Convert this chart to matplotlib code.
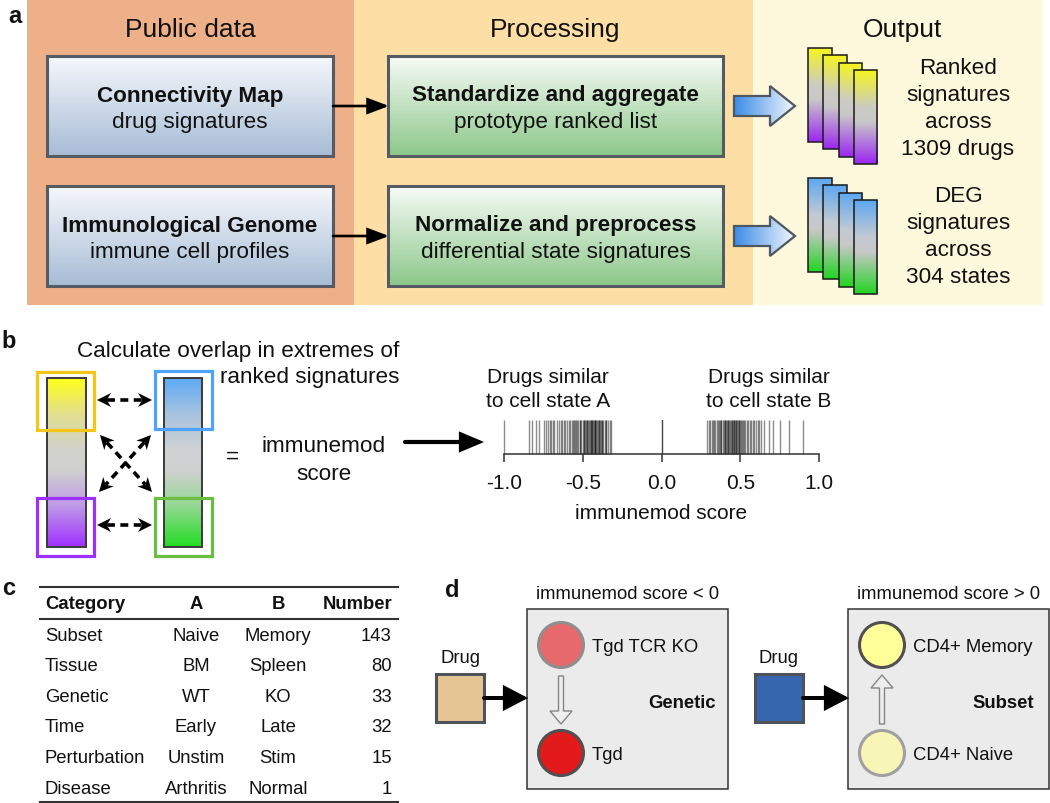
import numpy as np
import matplotlib
matplotlib.use('Agg')
import matplotlib.pyplot as plt
from matplotlib.patches import Rectangle, Polygon, Circle, FancyArrowPatch
from matplotlib.colors import to_rgb

plt.rcParams['font.family'] = ['Liberation Sans', 'DejaVu Sans']
plt.rcParams['axes.unicode_minus'] = False

# ---- panel a: pipeline ----
a_headers = ['Public data', 'Processing', 'Output']
a_source_bold = ['Connectivity Map', 'Immunological Genome']
a_source_sub = ['drug signatures', 'immune cell profiles']
a_proc_bold = ['Standardize and aggregate', 'Normalize and preprocess']
a_proc_sub = ['prototype ranked list', 'differential state signatures']
a_output = [['Ranked', 'signatures', 'across', '1309 drugs'],
            ['DEG', 'signatures', 'across', '304 states']]

# ---- panel b: immunemod scores of drugs (rug) ----
rug_scores = [-1.0, -0.84, -0.82, -0.80, -0.78, -0.745, -0.735, -0.72, -0.71, -0.70,
              -0.69, -0.68, -0.665, -0.65, -0.64, -0.63, -0.62, -0.61, -0.60, -0.59,
              -0.58, -0.57, -0.56, -0.555, -0.55, -0.54, -0.535, -0.53, -0.52, -0.515,
              -0.51, -0.50, -0.495, -0.49, -0.485, -0.48, -0.475, -0.47, -0.465, -0.46,
              -0.455, -0.45, -0.445, -0.44, -0.44, -0.435, -0.43, -0.425, -0.42, -0.42,
              -0.415, -0.41, -0.405, -0.40, -0.395, -0.39, -0.385, -0.38, -0.375, -0.37,
              -0.36, -0.355, -0.35, -0.34, -0.33, -0.32,
              0.29, 0.30, 0.31, 0.32, 0.33, 0.335, 0.34, 0.35, 0.36, 0.365,
              0.37, 0.375, 0.38, 0.39, 0.395, 0.40, 0.405, 0.41, 0.415, 0.42,
              0.425, 0.43, 0.435, 0.44, 0.445, 0.45, 0.455, 0.46, 0.46, 0.465,
              0.47, 0.475, 0.48, 0.485, 0.49, 0.495, 0.50, 0.505, 0.51, 0.52,
              0.525, 0.53, 0.54, 0.55, 0.56, 0.57, 0.58, 0.59, 0.60, 0.61,
              0.62, 0.63, 0.65, 0.68, 0.71, 0.755, 0.81, 0.90]
rug_ticks = [-1.0, -0.5, 0.0, 0.5, 1.0]
rug_tick_labels = ['-1.0', '-0.5', '0.0', '0.5', '1.0']

# ---- panel c: table ----
c_columns = ['Category', 'A', 'B', 'Number']
c_category = ['Subset', 'Tissue', 'Genetic', 'Time', 'Perturbation', 'Disease']
c_state_a = ['Naive', 'BM', 'WT', 'Early', 'Unstim', 'Arthritis']
c_state_b = ['Memory', 'Spleen', 'KO', 'Late', 'Stim', 'Normal']
c_number = [143, 80, 33, 32, 15, 1]

# ---- panel d: examples ----
d_headers = ['immunemod score < 0', 'immunemod score > 0']
d_category = ['Genetic', 'Subset']
d_state_top = ['Tgd TCR KO', 'CD4+ Memory']
d_state_bottom = ['Tgd', 'CD4+ Naive']
d_drug_color = ['#E5C594', '#3767AE']
d_top_fill = ['#E8696B', '#FFFF99']
d_top_edge = ['#8E8E8E', '#505050']
d_bottom_fill = ['#E31A1C', '#F8F6B6']
d_bottom_edge = ['#505050', '#A0A0A0']
d_direction = ['down', 'up']

fig = plt.figure(figsize=(10.5, 8.04), dpi=100)
ax = fig.add_axes([0, 0, 1, 1])


def gradient(x0, y0, x1, y1, stops, horizontal=False, clip=None, z=2):
    t = np.linspace(0, 1, 256)
    pos = [s[0] for s in stops]
    cols = np.array([to_rgb(s[1]) for s in stops])
    rgb = np.stack([np.interp(t, pos, cols[:, k]) for k in range(3)], axis=-1)
    img = rgb[None, :, :] if horizontal else rgb[:, None, :]
    im = ax.imshow(img, extent=(x0, x1, y1, y0), aspect='auto', origin='upper',
                   interpolation='bilinear', zorder=z)
    if clip is not None:
        im.set_clip_path(clip)
    return im


def grad_box(x0, y0, x1, y1, stops, ec='#555B63', lw=2.2, z=2):
    gradient(x0, y0, x1, y1, stops, z=z)
    ax.add_patch(Rectangle((x0, y0), x1 - x0, y1 - y0, fill=False, ec=ec, lw=lw, zorder=z + 0.5))


def txt(x, y, s, size, weight='normal', ha='center', color='#111111'):
    ax.text(x, y, s, fontsize=size, fontweight=weight, ha=ha, va='baseline', color=color)


def arrow(p, q, lw, hl, hw, ms=15, color='black', z=5):
    ax.add_patch(FancyArrowPatch(p, q, arrowstyle='-|>,head_length=%g,head_width=%g' % (hl, hw),
                                 mutation_scale=ms, lw=lw, color=color, shrinkA=0, shrinkB=0,
                                 joinstyle='miter', zorder=z))


def head(tip, frm, length=14, width=14):
    tip = np.array(tip, float)
    frm = np.array(frm, float)
    d = (tip - frm) / np.linalg.norm(tip - frm)
    n = np.array([-d[1], d[0]])
    base = tip - d * length
    notch = tip - d * length * 0.7
    ax.add_patch(Polygon([tip, base + n * width / 2, notch, base - n * width / 2],
                         closed=True, fc='black', ec='none', zorder=6))


def dashed_double(p, q):
    p = np.array(p, float)
    q = np.array(q, float)
    d = (q - p) / np.linalg.norm(q - p)
    a, b = p + d * 10, q - d * 10
    ax.plot([a[0], b[0]], [a[1], b[1]], color='black', lw=2.6, ls=(0, (2.2, 1.5)),
            solid_capstyle='butt', dash_capstyle='butt', zorder=5)
    head(p, q)
    head(q, p)


# ================= panel a =================
ax.add_patch(Rectangle((27, 0), 327, 306, fc='#EDB089', ec='none', zorder=0))
ax.add_patch(Rectangle((354, 0), 399, 306, fc='#FDDFA6', ec='none', zorder=0))
ax.add_patch(Rectangle((753, 0), 290, 306, fc='#FEF8DC', ec='none', zorder=0))
for xc, h in zip([190, 555, 902], a_headers):
    txt(xc, 37, h, 19)

blue_box = [(0, '#F6F8FB'), (1, '#A7BCD6')]
green_box = [(0, '#F7FBF6'), (1, '#8CC88A')]
row_top = [57, 187]
for i in range(2):
    y0 = row_top[i]
    grad_box(47, y0, 333, y0 + 100, blue_box)
    txt(190, y0 + 45, a_source_bold[i], 16.2, 'bold')
    txt(190, y0 + 71, a_source_sub[i], 16.2)
    grad_box(388, y0, 723, y0 + 100, green_box)
    txt(555.5, y0 + 44, a_proc_bold[i], 16.2, 'bold')
    txt(555.5, y0 + 71, a_proc_sub[i], 16.2)
    arrow((333, y0 + 50), (389, y0 + 50), lw=1.9, hl=0.85, hw=0.32)

    # block arrow with gradient
    yc = y0 + 50
    pts = [(734, yc - 10), (770, yc - 10), (770, yc - 20), (795, yc), (770, yc + 20),
           (770, yc + 10), (734, yc + 10)]
    poly = Polygon(pts, closed=True, fc='none', ec='#4F5860', lw=1.6, zorder=3, joinstyle='miter')
    ax.add_patch(poly)
    gradient(734, yc - 20, 795, yc + 20, [(0, '#3A8CE6'), (1, '#F2F7FD')], horizontal=True,
             clip=poly, z=2)

    # stacked signature cards
    card = ([(0, '#F5F520'), (0.4, '#CBCBC4'), (0.55, '#C8C8C8'), (1, '#9B26F2')] if i == 0 else
            [(0, '#5DA8F0'), (0.4, '#C4CAD2'), (0.55, '#C8C8C8'), (1, '#22D422')])
    cy = 49 if i == 0 else 179
    for k in range(4):
        cx0 = 808 + 15.3 * k
        cy0 = cy + 7.3 * k
        grad_box(cx0, cy0, cx0 + 23.5, cy0 + 94, card, ec='#1A1A1A', lw=1.1, z=2 + k)
    base = 74 if i == 0 else 202
    for j, line in enumerate(a_output[i]):
        txt(958, base + 27 * j, line, 16.2)

# ================= panel b =================
left_bar = [(0, '#FFFF1A'), (0.22, '#E2DE92'), (0.42, '#D2D2CC'), (0.55, '#D0D0D0'),
            (0.75, '#C09CE8'), (1, '#A030FF')]
right_bar = [(0, '#5EAAF5'), (0.22, '#A9C4E0'), (0.42, '#CFD2D4'), (0.55, '#D0D0D0'),
             (0.75, '#96D896'), (1, '#22DD22')]
grad_box(47, 379, 86, 548, left_bar, ec='#3A3A3A', lw=1.4)
grad_box(164, 379, 202, 548, right_bar, ec='#3A3A3A', lw=1.4)
for (x0, y0, c) in [(37, 373, '#F5C518'), (37, 499, '#9B30FF'), (155, 372, '#4DA3FF'),
                    (155, 499, '#6ABF40')]:
    ax.add_patch(Rectangle((x0, y0), 57, 57.5, fill=False, ec=c, lw=2.3, zorder=4))

dashed_double((97, 401), (152, 401))
dashed_double((97, 526), (152, 526))
dashed_double((100, 436), (152, 493))
dashed_double((151, 436), (99, 493))

txt(399, 357, 'Calculate overlap in extremes of', 16.2, ha='right')
txt(399, 383, 'ranked signatures', 16.2, ha='right')
txt(232, 463, '=', 16.2)
txt(324, 452, 'immunemod', 16.2)
txt(324, 480, 'score', 16.2)
arrow((405, 443), (484, 443), lw=3.0, hl=0.85, hw=0.36)

txt(548, 383, 'Drugs similar', 15)
txt(548, 407, 'to cell state A', 15)
txt(769, 383, 'Drugs similar', 15)
txt(769, 407, 'to cell state B', 15)

rax = fig.add_axes([504 / 1050, 1 - 455 / 804, 315 / 1050, 34 / 804])
rax.vlines(rug_scores, 0, 1, color='black', alpha=0.45, lw=1.0, clip_on=False)
rax.axvline(0, color='#444444', lw=1.0)
rax.set_xlim(-1, 1)
rax.set_ylim(0, 1)
rax.patch.set_alpha(0)
for s in ['top', 'left', 'right']:
    rax.spines[s].set_visible(False)
rax.spines['bottom'].set_color('#333333')
rax.spines['bottom'].set_linewidth(1.1)
rax.set_yticks([])
rax.set_xticks(rug_ticks)
rax.set_xticklabels(rug_tick_labels)
rax.tick_params(axis='x', length=5.8, width=1.1, color='#333333', pad=8, labelsize=15,
                labelcolor='#111111')
rax.set_xlabel('immunemod score', fontsize=15, labelpad=7.5, color='#111111')

# ================= panel c =================
ax.plot([40, 398], [588, 588], color='#333333', lw=1.5)
ax.plot([40, 398], [619.5, 619.5], color='#333333', lw=1.5)
ax.plot([40, 398], [802.5, 802.5], color='#333333', lw=1.5)
hx = [45, 196, 278, 392]
hha = ['left', 'center', 'center', 'right']
for x, h, a in zip(hx, c_columns, hha):
    txt(x, 609, h, 13.3, 'bold', ha=a)
for r in range(len(c_category)):
    yb = 640.7 + 30.6 * r
    txt(45, yb, c_category[r], 13.3, ha='left')
    txt(196, yb, c_state_a[r], 13.3)
    txt(278, yb, c_state_b[r], 13.3)
    txt(392, yb, str(c_number[r]), 13.3, ha='right')

# ================= panel d =================
for i in range(2):
    bx = 527 if i == 0 else 848
    dx = 436 if i == 0 else 755
    txt(bx + 100.5, 599, d_headers[i], 13.3)
    ax.add_patch(Rectangle((bx, 610), 201, 180, fc='#EBEBEB', ec='#333333', lw=1.1, zorder=1))
    ax.add_patch(Rectangle((dx, 675), 48, 48, fc=d_drug_color[i], ec='#4D5358', lw=2.2, zorder=2))
    txt(dx + 24, 663, 'Drug', 13.3)
    arrow((dx + 48, 699), (bx + 1, 699), lw=2.9, hl=0.9, hw=0.47)
    cx = bx + 34
    ax.add_patch(Circle((cx, 646), 22.5, fc=d_top_fill[i], ec=d_top_edge[i], lw=2.2, zorder=3))
    ax.add_patch(Circle((cx, 754), 22.5, fc=d_bottom_fill[i], ec=d_bottom_edge[i], lw=2.2, zorder=3))
    txt(bx + 65, 652.5, d_state_top[i], 13.3, ha='left')
    txt(bx + 65, 760.5, d_state_bottom[i], 13.3, ha='left')
    txt(bx + 155, 708, d_category[i], 13.3, 'bold')
    if d_direction[i] == 'down':
        ys, yh, yt = 677, 712, 725
    else:
        ys, yh, yt = 725, 689, 676
    ax.add_patch(Polygon([(cx - 2.5, ys), (cx + 2.5, ys), (cx + 2.5, yh), (cx + 11, yh), (cx, yt),
                          (cx - 11, yh), (cx - 2.5, yh)], closed=True, fc='#EEEEEE',
                         ec='#858585', lw=1.0, zorder=3))

# panel letters
txt(15, 23, 'a', 17, 'bold')
txt(9, 348, 'b', 17, 'bold')
txt(9, 595, 'c', 17, 'bold')
txt(452, 597, 'd', 17, 'bold')

ax.set_xlim(0, 1050)
ax.set_ylim(804, 0)
ax.axis('off')

fig.savefig('out.png', dpi=100)
